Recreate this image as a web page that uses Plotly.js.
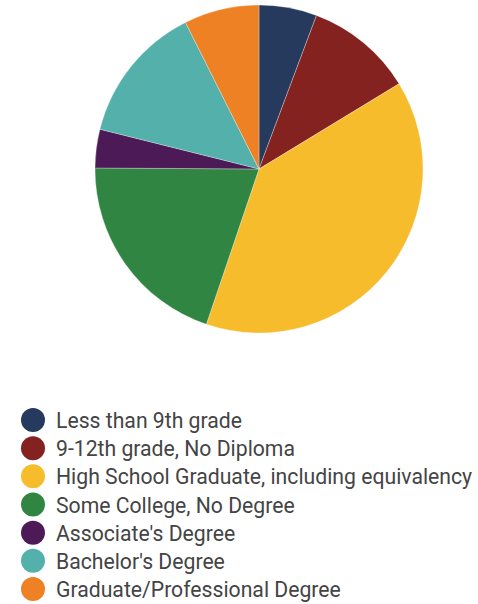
<!DOCTYPE html>
<html>
<head>
<meta charset="utf-8">
<script src="https://cdn.plot.ly/plotly-3.0.1.min.js"></script>
<style>html,body{margin:0;padding:0;background:#fff;}#chart{width:478px;height:604px;}</style>
</head>
<body>
<div id="chart"></div>
<script>
const categories = [
  "Less than 9th grade",
  "9-12th grade, No Diploma",
  "High School Graduate, including equivalency",
  "Some College, No Degree",
  "Associate's Degree",
  "Bachelor's Degree",
  "Graduate/Professional Degree"
];
const values = [5.7, 10.6, 38.9, 19.9, 3.8, 13.7, 7.4];
const colors = ["#253a5c", "#84221f", "#f7bc2c", "#2f8541", "#4d1a58", "#53b0ab", "#ee8123"];

const W = 478, H = 604;
const px = x => x / W;
const py = y => 1 - y / H;

const pie = {
  type: "pie",
  labels: categories,
  values: values,
  sort: false,
  direction: "clockwise",
  rotation: 0,
  textinfo: "none",
  hoverinfo: "label+percent",
  marker: { colors: colors, line: { color: "rgba(255,255,255,0.6)", width: 0.5 } },
  domain: { x: [px(95), px(423)], y: [py(333), py(5)] },
  showlegend: false
};

const shapes = [];
const annotations = [];
const rowY0 = 420, rowStep = 28.17;
categories.forEach((c, i) => {
  const yc = rowY0 + i * rowStep;
  shapes.push({
    type: "circle", xref: "paper", yref: "paper",
    x0: px(21), x1: px(45), y0: py(yc + 12), y1: py(yc - 12),
    fillcolor: colors[i], line: { width: 0 }
  });
  annotations.push({
    xref: "paper", yref: "paper", x: px(54), y: py(yc + 0.5),
    xanchor: "left", yanchor: "middle", showarrow: false,
    text: c, font: { family: "Roboto, sans-serif", size: 21.2, color: "#444" }
  });
});

const layout = {
  width: W, height: H,
  margin: { l: 0, r: 0, t: 0, b: 0 },
  paper_bgcolor: "#fff",
  shapes: shapes,
  annotations: annotations,
  showlegend: false
};

Plotly.newPlot("chart", [pie], layout, { displayModeBar: false, staticPlot: true });
</script>
</body>
</html>
